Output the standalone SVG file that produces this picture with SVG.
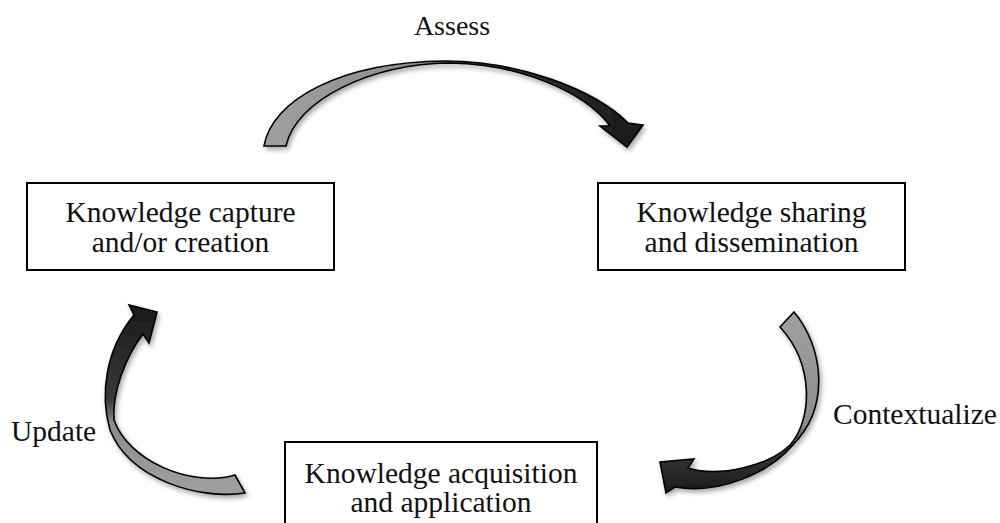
<svg xmlns="http://www.w3.org/2000/svg" width="1000" height="523" viewBox="0 0 1000 523">
<style>
.box{fill:#fff;stroke:#000;stroke-width:2}
text{font-family:"Liberation Serif","Times New Roman",serif;font-size:29.5px;fill:#111}
.c{text-anchor:middle}
.arr{stroke:#000;stroke-width:1.6;stroke-linejoin:miter}
</style>
<defs>
<filter id="sh" x="-20%" y="-20%" width="140%" height="140%">
<feGaussianBlur in="SourceAlpha" stdDeviation="2.5"/>
<feOffset dx="2" dy="3" result="b"/>
<feComponentTransfer><feFuncA type="linear" slope="0.35"/></feComponentTransfer>
<feMerge><feMergeNode/><feMergeNode in="SourceGraphic"/></feMerge>
</filter>
<linearGradient id="gTop" gradientUnits="userSpaceOnUse" x1="264" y1="0" x2="643" y2="0">
<stop offset="0" stop-color="#a0a0a0"/>
<stop offset="0.42" stop-color="#8a8a8a"/>
<stop offset="0.52" stop-color="#3a3a3a"/>
<stop offset="1" stop-color="#1a1a1a"/>
</linearGradient>
<linearGradient id="gRight" gradientUnits="userSpaceOnUse" x1="0" y1="312" x2="0" y2="493">
<stop offset="0" stop-color="#a0a0a0"/>
<stop offset="0.62" stop-color="#8c8c8c"/>
<stop offset="0.74" stop-color="#3a3a3a"/>
<stop offset="1" stop-color="#1a1a1a"/>
</linearGradient>
<linearGradient id="gLeft" gradientUnits="userSpaceOnUse" x1="0" y1="305" x2="0" y2="495">
<stop offset="0" stop-color="#1a1a1a"/>
<stop offset="0.5" stop-color="#3a3a3a"/>
<stop offset="0.62" stop-color="#8c8c8c"/>
<stop offset="1" stop-color="#a0a0a0"/>
</linearGradient>
</defs>
<rect width="1000" height="523" fill="#fff"/>

<g id="connectors">
<g id="arrow-assess">
<path class="arr" fill="url(#gTop)" filter="url(#sh)" d="M264,146 C272,100 340,62 445,61 C520,61 595,90 628,123 L643,125 L627,147 L600,126 L610,126 C585,92 520,64 450,63 C370,64 296,100 286,146 Z"/>
</g>
<g id="arrow-contextualize">
<path class="arr" fill="url(#gRight)" filter="url(#sh)" d="M794,312 C822,345 832,405 793,445 C770,472 720,495 675,487 L666,493 L660,462 L694,459 L688,468 C720,478 770,465 790,445 C812,420 815,365 780,327 Z"/>
</g>
<g id="arrow-update">
<path class="arr" fill="url(#gLeft)" filter="url(#sh)" d="M157,312 L149,343 L143,334 C126,356 112,392 114,420 C128,460 190,488 235,475 L245,493 C200,500 130,480 110,430 C100,395 105,350 134,315 L129,305 Z"/>
</g>
<text class="c" x="452" y="35" style="font-size:28px">Assess</text>
<text x="833" y="424">Contextualize</text>
<text x="11" y="441">Update</text>
</g>

<g id="node-capture">
<rect class="box" x="27" y="183" width="307" height="87"/>
<text class="c" x="180.5" y="222">Knowledge capture</text>
<text class="c" x="180.5" y="252">and/or creation</text>
</g>
<g id="node-sharing">
<rect class="box" x="598" y="183" width="307" height="87"/>
<text class="c" x="751.5" y="222">Knowledge sharing</text>
<text class="c" x="751.5" y="252">and dissemination</text>
</g>
<g id="node-acquisition">
<rect class="box" x="285" y="442" width="312" height="100"/>
<text class="c" x="441" y="483">Knowledge acquisition</text>
<text class="c" x="441" y="512">and application</text>
</g>
</svg>
